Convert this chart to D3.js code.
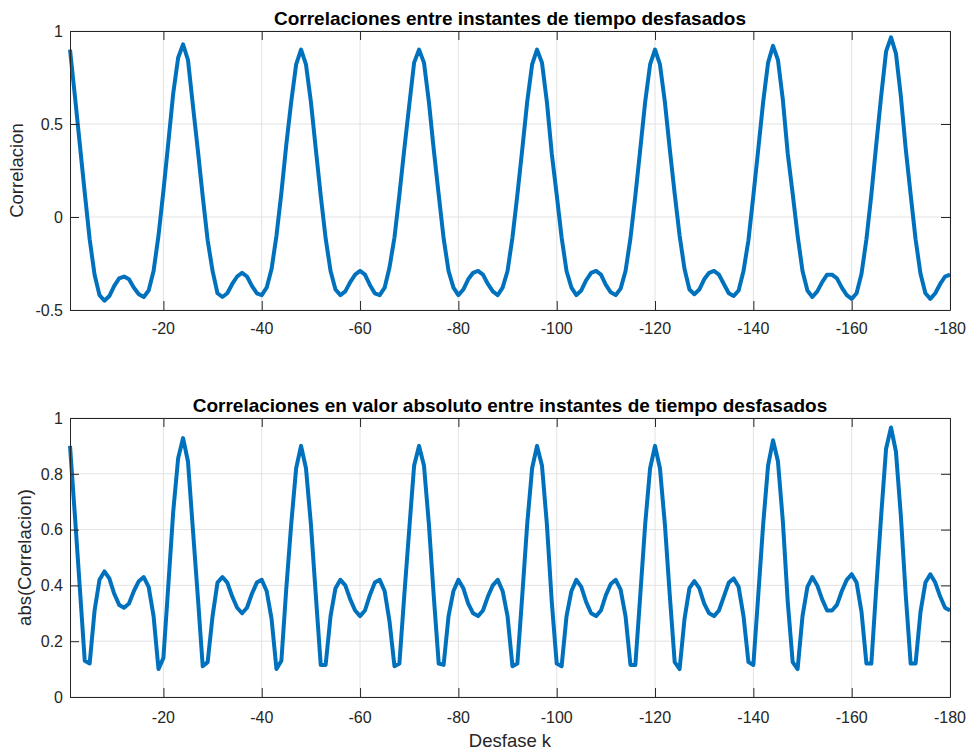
<!DOCTYPE html>
<html>
<head>
<meta charset="utf-8">
<script src="https://cdn.jsdelivr.net/npm/d3@7"></script>
<style>
  html, body { margin: 0; padding: 0; background: #ffffff; }
  svg { display: block; }
  text { font-family: "Liberation Sans", Arial, Helvetica, sans-serif; }
</style>
</head>
<body>
<svg id="chart" width="972" height="751"></svg>
<script>
// ---- data ----
const lags = d3.range(-1, -181, -1); // k = -1 ... -180
const correlation = [
  0.90, 0.65, 0.39, 0.13, -0.12, -0.31, -0.42, -0.45, -0.425, -0.37,
  -0.33, -0.32, -0.335, -0.38, -0.415, -0.43, -0.395, -0.29, -0.10, 0.14,
  0.40, 0.665, 0.856, 0.928, 0.844, 0.60, 0.36, 0.11, -0.125, -0.29,
  -0.41, -0.43, -0.41, -0.36, -0.32, -0.30, -0.32, -0.37, -0.41, -0.42,
  -0.38, -0.28, -0.10, 0.13, 0.39, 0.62, 0.82, 0.90, 0.82, 0.62,
  0.365, 0.115, -0.115, -0.29, -0.39, -0.42, -0.40, -0.35, -0.31, -0.29,
  -0.31, -0.365, -0.41, -0.42, -0.38, -0.27, -0.11, 0.12, 0.365, 0.60,
  0.83, 0.90, 0.83, 0.62, 0.36, 0.12, -0.115, -0.29, -0.38, -0.42,
  -0.39, -0.335, -0.30, -0.29, -0.31, -0.36, -0.40, -0.42, -0.38, -0.29,
  -0.11, 0.12, 0.365, 0.62, 0.82, 0.90, 0.83, 0.62, 0.34, 0.12,
  -0.11, -0.29, -0.38, -0.42, -0.395, -0.34, -0.30, -0.29, -0.31, -0.365,
  -0.405, -0.42, -0.385, -0.29, -0.115, 0.115, 0.365, 0.62, 0.82, 0.90,
  0.82, 0.62, 0.365, 0.125, -0.10, -0.28, -0.39, -0.415, -0.39, -0.335,
  -0.30, -0.29, -0.31, -0.36, -0.41, -0.425, -0.395, -0.29, -0.125, 0.115,
  0.365, 0.62, 0.83, 0.92, 0.845, 0.63, 0.34, 0.125, -0.10, -0.29,
  -0.395, -0.43, -0.40, -0.35, -0.31, -0.31, -0.33, -0.38, -0.42, -0.44,
  -0.41, -0.305, -0.12, 0.12, 0.39, 0.65, 0.89, 0.966, 0.88, 0.65,
  0.365, 0.12, -0.12, -0.305, -0.41, -0.44, -0.41, -0.36, -0.32, -0.31
];
const xTicks = [-20, -40, -60, -80, -100, -120, -140, -160, -180];
const yTicksTop = [-0.5, 0, 0.5, 1];
const yTicksBottom = [0, 0.2, 0.4, 0.6, 0.8, 1];
const titles = [
  "Correlaciones entre instantes de tiempo desfasados",
  "Correlaciones en valor absoluto entre instantes de tiempo desfasados"
];
const yLabels = ["Correlacion", "abs(Correlacion)"];
const xLabel = "Desfase k";

// ---- layout ----
const svg = d3.select("#chart");
const axColor = "#262626";
const gridColor = "#e3e3e3";
const lineColor = "#0072BD";
const tickLen = 9;
const left = 70, right = 950;

const x = d3.scaleLinear().domain([-1, -180]).range([left, right]);

function panel(opts) {
  const { top, bottom, yDomain, yTicks, values, title, titleY, ylabel, ylabelX, xTickY } = opts;
  const y = d3.scaleLinear().domain(yDomain).range([bottom, top]);
  const g = svg.append("g");

  // grid
  g.append("g").selectAll("line").data(xTicks).join("line")
    .attr("x1", d => x(d)).attr("x2", d => x(d))
    .attr("y1", top).attr("y2", bottom)
    .attr("stroke", gridColor).attr("stroke-width", 1);
  g.append("g").selectAll("line").data(yTicks).join("line")
    .attr("y1", d => y(d)).attr("y2", d => y(d))
    .attr("x1", left).attr("x2", right)
    .attr("stroke", gridColor).attr("stroke-width", 1);

  // data line
  const pts = lags.map((k, i) => [k, values[i]]);
  g.append("path")
    .datum(pts)
    .attr("fill", "none")
    .attr("stroke", lineColor)
    .attr("stroke-width", 4)
    .attr("stroke-linejoin", "round")
    .attr("stroke-linecap", "butt")
    .attr("d", d3.line().x(d => x(d[0])).y(d => y(d[1])));

  // axes (box with inward ticks)
  const axB = d3.axisBottom(x).tickValues(xTicks).tickSizeInner(-tickLen).tickSizeOuter(0).tickFormat("");
  const axT = d3.axisTop(x).tickValues(xTicks).tickSizeInner(-tickLen).tickSizeOuter(0).tickFormat("");
  const axL = d3.axisLeft(y).tickValues(yTicks).tickSizeInner(-tickLen).tickSizeOuter(0).tickFormat("");
  const axR = d3.axisRight(y).tickValues(yTicks).tickSizeInner(-tickLen).tickSizeOuter(0).tickFormat("");
  [[axB, `translate(0,${bottom})`], [axT, `translate(0,${top})`],
   [axL, `translate(${left},0)`], [axR, `translate(${right},0)`]].forEach(([ax, tr]) => {
    const a = g.append("g").attr("transform", tr).call(ax);
    a.selectAll("path.domain").attr("stroke", axColor).attr("stroke-width", 1);
    a.selectAll(".tick line").attr("stroke", axColor).attr("stroke-width", 1);
  });

  // tick labels (plain hyphen minus, as in the original)
  g.append("g").selectAll("text").data(xTicks).join("text")
    .attr("x", d => x(d)).attr("y", xTickY)
    .attr("text-anchor", "middle")
    .attr("font-size", 16).attr("fill", axColor)
    .text(d => String(d));
  g.append("g").selectAll("text").data(yTicks).join("text")
    .attr("x", left - 7).attr("y", d => y(d)).attr("dy", "0.36em")
    .attr("text-anchor", "end")
    .attr("font-size", 16).attr("fill", axColor)
    .text(d => String(d));

  // title
  g.append("text").attr("x", (left + right) / 2).attr("y", titleY)
    .attr("text-anchor", "middle").attr("font-size", 19).attr("font-weight", "bold")
    .attr("fill", "#000").text(title);

  // y label
  g.append("text")
    .attr("transform", `translate(${ylabelX},${(top + bottom) / 2}) rotate(-90)`)
    .attr("text-anchor", "middle").attr("font-size", 18.5).attr("fill", axColor)
    .text(ylabel);
}

panel({
  top: 31, bottom: 310, yDomain: [-0.5, 1], yTicks: yTicksTop,
  values: correlation, title: titles[0], titleY: 25,
  ylabel: yLabels[0], ylabelX: 23, xTickY: 334
});
panel({
  top: 418, bottom: 697, yDomain: [0, 1], yTicks: yTicksBottom,
  values: correlation.map(v => Math.abs(v)), title: titles[1], titleY: 412,
  ylabel: yLabels[1], ylabelX: 31, xTickY: 723
});

svg.append("text").attr("x", (left + right) / 2).attr("y", 747)
  .attr("text-anchor", "middle").attr("font-size", 18.5).attr("fill", axColor)
  .text(xLabel);
</script>
</body>
</html>
